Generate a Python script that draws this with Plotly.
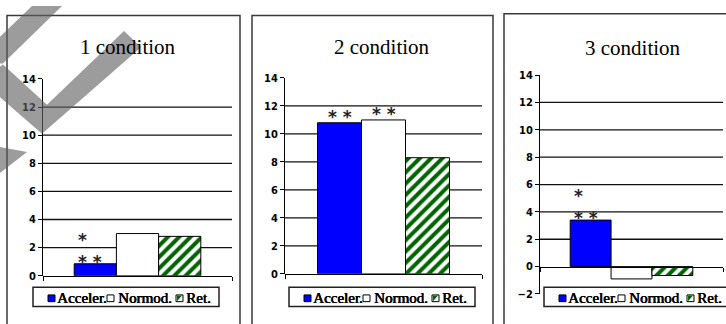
import plotly.graph_objects as go

W, H = 726, 324

# ---- data ----
conditions = ["1 condition", "2 condition", "3 condition"]
groups = ["Acceler.", "Normod.", "Ret."]
acceler = [0.85, 10.8, 3.4]
normod = [3.0, 11.0, -0.9]
ret = [2.8, 8.3, -0.65]
y_ranges = [[0, 14], [0, 14], [-2, 14]]
grid_vals = [2, 4, 6, 8, 10, 12]
# significance marks: (condition index, group index, text)
stars = [(0, 0, "*<br>* *"), (1, 0, "* *"), (1, 1, "* *"), (2, 0, "*<br>* *")]

colors = ["#0000FF", "#FFFFFF", "#FFFFFF"]
ret_green = "#006400"
serif = "Liberation Serif, Times New Roman, DejaVu Serif, serif"


def px(x):
    return x / W


def py(y):
    return 1 - y / H


# layout geometry (pixels)
x_dom = [(43, 232), (285, 482), (540, 723)]
y_dom = [(281, 76), (279, 75), (300, 72)]
title_pos = [(128, 43), (382, 43), (633, 44)]
panel_box = [(7, 10, 240, 340), (252, 10, 493, 340), (504, 8, 745, 340)]
legend_off = [0, 256, 511]
bargap = 0.33

fig = go.Figure()
series = [acceler, normod, ret]
for c in range(3):
    sfx = "" if c == 0 else str(c + 1)
    for g in range(3):
        marker = dict(color=colors[g], line=dict(color="black", width=1))
        if g == 2:
            marker["pattern"] = dict(shape="/", fgcolor=ret_green, bgcolor="white",
                                     fgopacity=1, size=8, solidity=0.5)
        fig.add_trace(go.Bar(x=[0], y=[series[g][c]], name=groups[g], marker=marker,
                             xaxis="x" + sfx, yaxis="y" + sfx, showlegend=False,
                             hoverinfo="name+y"))

layout = dict(width=W, height=H, margin=dict(l=0, r=0, t=0, b=0),
              paper_bgcolor="white", plot_bgcolor="rgba(0,0,0,0)",
              barmode="group", bargap=bargap, bargroupgap=0,
              showlegend=False)
shapes = []
annotations = []
for c in range(3):
    sfx = "" if c == 0 else str(c + 1)
    lo, hi = y_ranges[c]
    d0, d1 = py(y_dom[c][0]), py(y_dom[c][1])
    zero_pos = d0 + (0 - lo) / (hi - lo) * (d1 - d0)
    layout["xaxis" + sfx] = dict(domain=[px(x_dom[c][0]), px(x_dom[c][1])], range=[-0.5, 0.5],
                                 showline=True, linecolor="black", linewidth=1,
                                 tickvals=[-0.5, 0.5], ticks="outside", ticklen=4,
                                 tickcolor="black", showticklabels=False, showgrid=False,
                                 zeroline=False, anchor="free", position=zero_pos,
                                 fixedrange=True)
    layout["yaxis" + sfx] = dict(domain=[d0, d1], range=[lo, hi], dtick=2, tick0=0,
                                 showline=True, linecolor="black", linewidth=1,
                                 ticks="outside", ticklen=4, tickcolor="black",
                                 showgrid=False, zeroline=False, anchor="x" + sfx,
                                 tickfont=dict(family="DejaVu Sans Condensed, DejaVu Sans",
                                               size=11, color="black", weight="bold"),
                                 fixedrange=True)
    for v in grid_vals:
        shapes.append(dict(type="line", xref="x" + sfx + " domain", yref="y" + sfx,
                           x0=0, x1=1, y0=v, y1=v, layer="below",
                           line=dict(color="#111", width=1.3)))
    # title
    tx, ty = title_pos[c]
    annotations.append(dict(text=conditions[c], xref="paper", yref="paper", x=px(tx), y=py(ty),
                            xanchor="center", yanchor="middle", showarrow=False,
                            font=dict(family=serif, size=21, color="black")))
    # panel border
    bx0, by0, bx1, by1 = panel_box[c]
    shapes.append(dict(type="rect", xref="paper", yref="paper", x0=px(bx0), x1=px(bx1),
                       y0=py(by1), y1=py(by0), line=dict(color="#3a3a3a", width=1.5)))
    # legend box
    o = legend_off[c]
    shapes.append(dict(type="rect", xref="paper", yref="paper", x0=px(33 + o), x1=px(219 + o),
                       y0=py(313), y1=py(293), fillcolor="white",
                       line=dict(color="#222", width=1.5)))
    sq = [(48, "#0000FF"), (107, "#FFFFFF"), (176, "#FFFFFF")]
    for k, (sx, col) in enumerate(sq):
        shapes.append(dict(type="rect", xref="paper", yref="paper", x0=px(sx + o), x1=px(sx + 7 + o),
                           y0=py(308), y1=py(301), fillcolor=col,
                           line=dict(color="black", width=1)))
        if k == 2:
            shapes.append(dict(type="path", xref="paper", yref="paper",
                               path="M %f %f L %f %f L %f %f Z" % (px(sx + 1 + o), py(307.5),
                                                                  px(sx + 6 + o), py(301.5),
                                                                  px(sx + 1 + o), py(301.5)),
                               fillcolor=ret_green, line=dict(width=0)))
    for k, tx0 in enumerate([55, 116, 184]):
        annotations.append(dict(text=groups[k], xref="paper", yref="paper",
                                x=px(tx0 + o), y=py(304), xanchor="left", yanchor="middle",
                                showarrow=False,
                                font=dict(family=serif, size=15, color="black",
                                          shadow="0.6px 0 0 black, 0.3px 0 0 black")))

# significance stars
step = (1 - bargap) / 3
for c, g, txt in stars:
    sfx = "" if c == 0 else str(c + 1)
    val = series[g][c]
    xc = (g - 1) * step
    left = "<br>" in txt
    annotations.append(dict(text=txt, xref="x" + sfx, yref="y" + sfx,
                            x=xc - (step / 2 if left else 0), y=val,
                            xanchor="left" if left else "center", yanchor="bottom",
                            align="left", xshift=2 if left else 0,
                            yshift=-10 if left else -6,
                            showarrow=False,
                            font=dict(family="DejaVu Sans", size=17, color="#222",
                                      weight="bold")))

# watermark in first panel
wm = [
    [(32, 0), (62, 0), (3, 60), (0, 60), (0, 32)],
    [(3, 61), (47, 103), (124, 26), (141, 43), (42, 133), (0, 95), (0, 63)],
    [(0, 147), (27, 152), (0, 174)],
]
for poly in wm:
    path = "M " + " L ".join("%f %f" % (px(a), py(b)) for a, b in poly) + " Z"
    shapes.append(dict(type="path", xref="paper", yref="paper", path=path,
                       fillcolor="rgba(95,95,95,0.62)", line=dict(width=0), layer="above"))

layout["shapes"] = shapes
layout["annotations"] = annotations
fig.update_layout(**layout)
fig.write_html("out.html", config={"displayModeBar": False},
               post_script="document.body.style.margin='0';document.body.style.overflow='hidden';")
